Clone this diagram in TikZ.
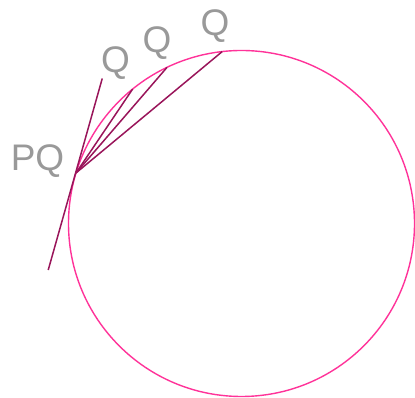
\documentclass[tikz,border=0pt]{standalone}
\usepackage{fontspec}
\setmainfont{Liberation Sans}
\usepackage{xcolor}
\definecolor{circpink}{HTML}{FF3399}
\definecolor{chordred}{HTML}{99155A}
\definecolor{labgray}{HTML}{999999}

\begin{document}
\begin{tikzpicture}[x=1pt,y=1pt,
  lab/.style={text=labgray,font=\fontsize{37}{37}\selectfont,inner sep=0pt},
  chord/.style={chordred,line width=1.5pt}]
  \useasboundingbox (0,0) rectangle (415,398);
  \coordinate (O) at (241.5,174.5);
  \draw[circpink,line width=1.4pt] (O) circle[radius=173];
  \coordinate (P) at ([shift={(163:173)}]O);
  \coordinate (Q1) at ([shift={(129:173)}]O);
  \coordinate (Q2) at ([shift={(115.5:173)}]O);
  \coordinate (Q3) at ([shift={(96.4:173)}]O);
  \coordinate (T1) at ([shift={(74.5:98)}]P);
  \coordinate (T2) at ([shift={(254:101)}]P);
  \draw[chord] (T2) -- (T1);
  \draw[chord] (P) -- (Q1);
  \draw[chord] (P) -- (Q2);
  \draw[chord] (P) -- (Q3);
  \node[lab] (pq) at (37.5,237) {PQ};
  \node[lab] (q1) at (115.5,335) {Q};
  \node[lab] (q2) at (157,355) {Q};
  \node[lab] (q3) at (215,372) {Q};
\end{tikzpicture}
\end{document}
